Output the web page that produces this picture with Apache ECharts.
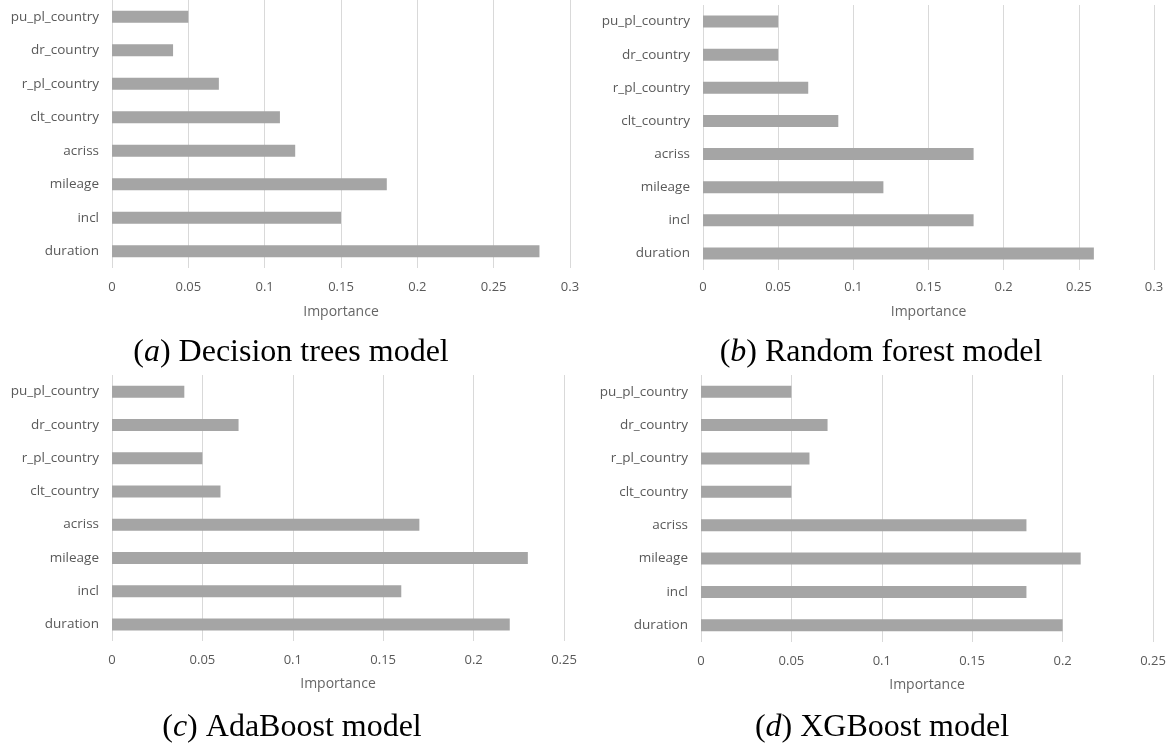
<!DOCTYPE html>
<html>
<head>
<meta charset="utf-8">
<script src="https://cdn.jsdelivr.net/npm/echarts@6/dist/echarts.min.js"></script>
<style>
  html, body { margin: 0; padding: 0; background: #ffffff; }
  #chart { width: 1169px; height: 744px; }
</style>
</head>
<body>
<div id="chart"></div>
<script>
// Feature names, listed top to bottom
const categories = ['pu_pl_country', 'dr_country', 'r_pl_country', 'clt_country', 'acriss', 'mileage', 'incl', 'duration'];

// Feature importance per model (same order as categories)
const decisionTrees = [0.05, 0.04, 0.07, 0.11, 0.12, 0.18, 0.15, 0.28];
const randomForest  = [0.05, 0.05, 0.07, 0.09, 0.18, 0.12, 0.18, 0.26];
const adaBoost      = [0.04, 0.07, 0.05, 0.06, 0.17, 0.23, 0.16, 0.22];
const xgBoost       = [0.05, 0.07, 0.06, 0.05, 0.18, 0.21, 0.18, 0.20];

// Axis ranges
const axisMaxTop = 0.3;
const axisMaxBottom = 0.25;
const axisStep = 0.05;

const axisTitle = 'Importance';
const captions = [
  { letter: 'a', text: ' Decision trees model' },
  { letter: 'b', text: ' Random forest model' },
  { letter: 'c', text: ' AdaBoost model' },
  { letter: 'd', text: ' XGBoost model' }
];

const panels = [
  { grid: { left: 112, top: 0,   width: 458, height: 268 }, max: axisMaxTop,    data: decisionTrees, tickMargin: 13, nameGap: 37, caption: [291, 353] },
  { grid: { left: 703, top: 5,   width: 451, height: 265 }, max: axisMaxTop,    data: randomForest,  tickMargin: 11, nameGap: 35, caption: [881, 353] },
  { grid: { left: 112, top: 375, width: 452, height: 266 }, max: axisMaxBottom, data: adaBoost,      tickMargin: 13, nameGap: 36, caption: [292, 728] },
  { grid: { left: 701, top: 375, width: 452, height: 267 }, max: axisMaxBottom, data: xgBoost,       tickMargin: 13, nameGap: 36, caption: [882, 728] }
];

const labelFont = 'Open Sans';
const labelColor = '#595959';
const gridColor = '#d9d9d9';
const barColor = '#a5a5a5';

const option = {
  backgroundColor: '#ffffff',
  animation: false,
  grid: panels.map(p => Object.assign({ containLabel: false }, p.grid)),
  xAxis: panels.map((p, i) => ({
    type: 'value',
    gridIndex: i,
    min: 0,
    max: p.max,
    interval: axisStep,
    name: axisTitle,
    nameLocation: 'middle',
    nameGap: p.nameGap,
    nameTextStyle: { fontFamily: labelFont, fontSize: 14, color: '#666666' },
    axisLine: { show: false },
    axisTick: { show: false },
    axisLabel: { fontFamily: labelFont, fontSize: 13, color: labelColor, margin: p.tickMargin },
    splitLine: { show: true, lineStyle: { color: gridColor, width: 1 } }
  })),
  yAxis: panels.map((p, i) => ({
    type: 'category',
    gridIndex: i,
    data: categories,
    inverse: true,
    axisLine: { show: false },
    axisTick: { show: false },
    axisLabel: { fontFamily: labelFont, fontSize: 13.5, color: labelColor, margin: 13 },
    splitLine: { show: false }
  })),
  series: panels.map((p, i) => ({
    type: 'bar',
    xAxisIndex: i,
    yAxisIndex: i,
    data: p.data,
    barWidth: 12,
    itemStyle: { color: barColor },
    silent: true
  })),
  graphic: panels.map((p, i) => ({
    type: 'text',
    x: p.caption[0],
    y: p.caption[1],
    style: {
      text: '({it|' + captions[i].letter + '})' + captions[i].text,
      align: 'center',
      verticalAlign: 'middle',
      fontFamily: 'Liberation Serif',
      fontSize: 32,
      fill: '#000000',
      rich: {
        it: { fontFamily: 'Liberation Serif', fontSize: 32, fontStyle: 'italic', fill: '#000000' }
      }
    }
  }))
};

const chart = echarts.init(document.getElementById('chart'), null, { renderer: 'canvas' });
chart.setOption(option);
</script>
</body>
</html>
